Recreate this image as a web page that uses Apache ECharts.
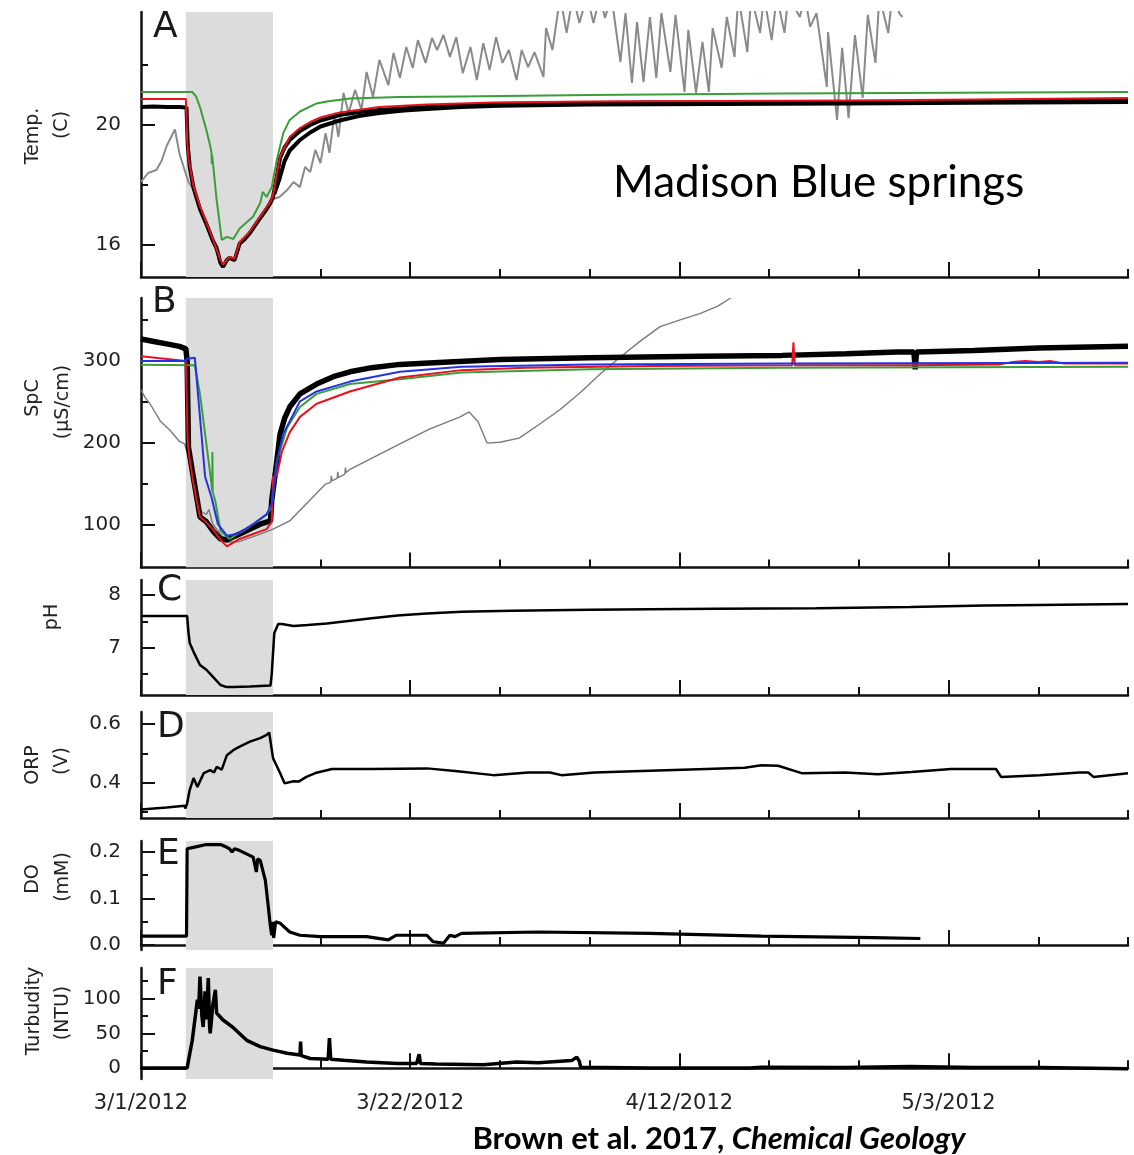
<!DOCTYPE html>
<html><head><meta charset="utf-8">
<script src="https://cdn.jsdelivr.net/npm/echarts@6/dist/echarts.min.js"></script>
<style>html,body{margin:0;padding:0;background:#fff}#c{width:1134px;height:1155px}</style>
</head><body><div id="c"></div>
<script>
// ---------- axis ticks / labels ----------
const xMajorDays = [0, 21, 42, 63];
const xMajorLabels = ['3/1/2012', '3/22/2012', '4/12/2012', '5/3/2012'];
const xMinorDays = [7, 14, 28, 35, 49, 56, 70, 77];
const stormShade = [3.5, 10.3];          // shaded storm interval (days after 3/1/2012)

// ---------- A: Temperature (C) ----------
const tempBlack = [[0,20.6],[1,20.62],[2,20.6],[3,20.6],[3.55,20.58],[3.65,19.3],[3.8,18.6],[4.1,17.9],[4.6,17.2],[5.1,16.7],[5.6,16.15],[5.9,15.9],[6.2,15.4],[6.4,15.27],[6.7,15.5],[6.9,15.57],[7.3,15.5],[7.7,16.05],[8.1,16.2],[8.5,16.4],[9.3,16.9],[9.8,17.2],[10.1,17.4],[10.3,17.6],[10.6,18.3],[10.85,18.9],[11.2,19.25],[11.6,19.5],[12.4,19.8],[13.2,20.0],[14,20.15],[15.5,20.33],[17,20.43],[18.6,20.5],[20.5,20.56],[22.3,20.6],[25,20.65],[27.5,20.7],[31,20.72],[35.3,20.73],[40,20.75],[45,20.75],[50,20.76],[55,20.76],[60,20.77],[65,20.78],[70,20.8],[77,20.82]];
const tempBlackLow = [[10.4,17.7],[10.8,18.2],[11.2,18.8],[11.6,19.15],[12.4,19.5],[13.2,19.75],[14,19.95],[15.5,20.15],[17,20.3],[18.6,20.4],[20.5,20.48],[22.3,20.53],[25,20.6],[28,20.64],[35,20.68],[45,20.7],[55,20.72],[65,20.74],[77,20.77]];
const tempRed = [[0,20.87],[3.5,20.87],[3.55,20.85],[3.6,19.5],[3.7,18.9],[4.1,17.95],[4.6,17.3],[5.1,16.75],[5.6,16.2],[6.2,15.5],[6.4,15.35],[6.9,15.6],[7.3,15.55],[7.7,16.1],[8.5,16.45],[9.3,16.95],[10.1,17.45],[10.3,17.65],[10.6,18.4],[10.85,18.95],[11.6,19.6],[12.4,19.9],[13.2,20.1],[14,20.25],[15.5,20.42],[18.6,20.6],[22.3,20.68],[27.5,20.75],[35,20.78],[45,20.8],[55,20.82],[65,20.85],[77,20.9]];
const tempGreen = [[0,21.1],[4.0,21.1],[4.3,20.95],[4.6,20.6],[5.1,19.83],[5.4,19.3],[5.5,19.07],[5.52,18.7],[5.55,19.0],[5.9,17.5],[6.3,16.17],[6.7,16.27],[7.2,16.2],[7.7,16.55],[8.75,16.95],[9.3,17.4],[9.5,17.77],[9.8,17.6],[10.2,17.93],[10.6,18.85],[11.1,19.73],[11.6,20.17],[12.4,20.45],[13.7,20.72],[14.5,20.78],[16.3,20.88],[20.2,20.93],[24.9,20.95],[35,21.0],[50,21.05],[77,21.1]];
const tempGray = [[0,18.1],[0.55,18.4],[1.2,18.5],[1.6,18.8],[2.0,19.3],[2.65,19.85],[3.0,19.05],[3.4,18.5],[3.7,18.1],[4.1,17.85],[4.6,17.15],[5.1,16.65],[5.6,16.1],[6.2,15.4],[6.4,15.25],[6.7,15.5],[6.9,15.55],[7.3,15.45],[7.7,16.05],[8.5,16.4],[9.3,16.9],[10.1,17.5],[10.8,17.6],[11.4,17.83],[11.9,18.1],[12.4,17.93],[12.8,18.6],[13.2,18.43],[13.6,19.17],[14.0,18.73],[14.4,19.73],[14.7,19.07],[15.1,20.4],[15.4,19.6],[15.8,21.07],[16.2,20.4],[16.7,21.17],[17.2,20.5],[17.6,21.77],[18.1,20.93],[18.6,22.17],[19.3,21.33],[19.7,22.4],[20.2,21.57],[20.7,22.6],[21.2,21.9],[21.6,22.83],[22.2,22.07],[22.7,22.9],[23.1,22.5],[23.6,23.0],[24.1,22.27],[24.6,22.93],[25.1,21.73],[25.7,22.6],[26.2,21.5],[26.7,22.73],[27.2,21.83],[27.7,22.93],[28.2,22.07],[28.7,22.5],[29.3,21.5],[29.7,22.5],[30.2,21.93],[30.7,22.43],[31.4,21.6],[31.6,23.23],[32.1,22.5],[32.7,24.3],[33.2,23.07],[33.7,24.3],[34.2,23.4],[34.8,24.3],[35.3,23.4],[35.8,24.3],[36.2,23.57],[36.7,24.3],[37.4,22.1],[37.8,23.73],[38.3,21.4],[38.7,23.43],[39.2,21.43],[39.7,23.6],[40.2,21.57],[40.6,23.73],[41.3,21.77],[41.7,23.67],[42.4,21.1],[42.7,23.17],[43.3,21.07],[43.8,22.77],[44.3,21.1],[44.6,23.23],[45.3,21.9],[45.7,23.6],[46.3,22.27],[46.6,24.3],[47.3,22.43],[47.6,24.3],[48.3,23.07],[48.6,24.3],[49.2,22.83],[49.6,24.3],[50.2,23.07],[50.5,24.3],[51.4,23.6],[51.8,24.3],[52.2,23.27],[52.7,23.73],[53.5,21.27],[53.6,23.1],[54.3,20.17],[54.7,22.57],[55.2,20.23],[55.7,23.0],[56.3,20.9],[56.7,23.67],[57.3,22.07],[57.6,24.3],[58.3,23.07],[58.6,24.3],[59.2,23.7],[59.4,23.6]];

// ---------- B: Specific conductance (uS/cm) ----------
const spcBlack = [[0,327],[1,324],[2,321],[3,318],[3.5,315],[3.6,300],[3.7,195],[4.0,166],[4.4,129],[4.6,110],[5.1,104],[5.6,93],[6.2,83],[6.7,82],[7.7,89],[8.5,95],[9.3,101],[10.1,105],[10.2,130],[10.5,166],[10.85,211],[11.2,230],[11.6,244],[12.4,260],[13.7,272],[15,281],[16.3,287],[18,292],[20.2,296],[24,299],[28,302],[35,304],[43.6,306],[50,307],[55,309],[59,311],[60.3,311],[60.4,290],[60.5,311],[65,313],[70,316],[77,318]];
const spcRed = [[0,306],[3.5,300],[3.55,298],[3.65,200],[3.8,180],[4.1,150],[4.6,110],[5.0,105],[5.6,95],[6.2,82],[6.7,74],[7.7,83],[8.75,89],[9.8,95],[10.2,104],[10.3,159],[10.6,160],[11.0,190],[11.6,213],[12.4,232],[13.7,248],[16.3,263],[20.2,280],[25,289],[30,292],[40,294],[50.8,295],[50.9,323],[51.0,295],[60,295],[67,296],[68,299],[69,300],[70,299],[71,300],[72,297],[77,297]];
const spcBlue = [[0,300],[3.5,300],[3.6,303],[4.2,304],[4.6,232],[5.0,159],[5.5,134],[6.0,101],[6.7,87],[7.5,89],[8.75,101],[9.8,113],[10.2,126],[10.6,178],[11.1,211],[12.4,251],[13.7,263],[16.3,275],[20.2,287],[25,293],[35,296],[50,297],[77,298]];
const spcGreen = [[0,295.5],[4.2,295],[4.6,260],[5.1,199],[5.5,150],[5.56,141],[5.57,189],[5.6,140],[5.8,129],[6.2,93],[6.9,83],[8.2,95],[9.8,113],[10.2,122],[10.6,178],[11.4,219],[12.4,244],[13.7,260],[16.3,272],[20.2,278],[25,286],[35,290],[50,292],[77,293]];
const spcGray = [[0,265],[0.3,256],[0.4,254],[0.7,248],[1.5,227],[2.3,215],[3.0,202],[3.4,199],[3.7,183],[4.1,150],[4.6,117],[5.1,113],[5.3,119],[5.6,101],[6.7,79],[7.7,80],[9.3,89],[10.3,95],[11.6,105],[12.9,126],[14.4,150],[14.8,152],[14.85,160],[14.9,154],[15.3,157],[15.35,165],[15.4,158],[15.9,162],[15.95,170],[16.0,164],[16.3,168],[20.2,199],[22.5,217],[24.9,232],[25.6,238],[26.3,226],[27.0,200],[28.0,201],[29.5,206],[31,222],[32.7,241],[34.3,262],[35.8,284],[37.4,305],[39,325],[40.5,342],[42,350],[43.6,358],[45,367],[46,377]];

// ---------- C: pH ----------
const phData = [[0,7.6],[3.6,7.6],[3.7,7.3],[3.8,7.09],[4.1,6.92],[4.6,6.67],[5.1,6.58],[5.6,6.45],[6.2,6.29],[6.7,6.25],[7.2,6.25],[8.5,6.26],[10.1,6.28],[10.2,6.5],[10.4,7.28],[10.7,7.45],[11.0,7.45],[11.9,7.41],[13,7.43],[14.5,7.46],[16,7.5],[18,7.56],[20,7.61],[22.3,7.65],[25,7.68],[28.9,7.70],[35,7.72],[39.7,7.73],[45,7.74],[52.7,7.75],[60,7.77],[65.8,7.8],[70,7.81],[77,7.83]];

// ---------- D: ORP (V) ----------
const orpData = [[0,0.309],[2,0.316],[3.4,0.322],[3.45,0.312],[3.6,0.33],[3.8,0.375],[4.1,0.416],[4.4,0.386],[4.9,0.433],[5.4,0.443],[5.7,0.435],[5.9,0.454],[6.3,0.445],[6.7,0.494],[7.2,0.511],[7.7,0.523],[8.5,0.54],[9.3,0.552],[9.8,0.563],[10.0,0.571],[10.3,0.484],[10.85,0.433],[11.2,0.398],[11.9,0.405],[12.3,0.404],[12.9,0.42],[13.6,0.433],[14.9,0.447],[18,0.447],[22.3,0.449],[24.5,0.44],[27.5,0.426],[30.2,0.435],[31.9,0.435],[32.8,0.426],[35.4,0.435],[39.7,0.441],[44.1,0.447],[47.1,0.451],[48.4,0.46],[49.7,0.458],[51.6,0.432],[54.9,0.435],[57.5,0.429],[60.1,0.437],[63.2,0.447],[66.7,0.447],[67.1,0.42],[70.1,0.426],[73.2,0.435],[73.9,0.435],[74.3,0.42],[77,0.432]];

// ---------- E: DO (mM) ----------
const doData = [[0,0.019],[3.55,0.019],[3.6,0.207],[4.1,0.21],[5.1,0.216],[6.2,0.216],[6.7,0.21],[6.9,0.207],[7.1,0.2],[7.3,0.207],[7.7,0.203],[8.75,0.189],[9.0,0.157],[9.1,0.185],[9.3,0.182],[9.7,0.139],[9.9,0.09],[10.1,0.039],[10.2,0.021],[10.3,0.05],[10.35,0.015],[10.5,0.05],[10.85,0.047],[11.6,0.028],[12.4,0.021],[14,0.018],[17.6,0.018],[19.3,0.011],[19.9,0.021],[22.3,0.021],[22.8,0.007],[23.6,0.004],[24.1,0.021],[24.5,0.018],[25.0,0.025],[31,0.028],[39.7,0.025],[48.4,0.019],[57.1,0.016],[60.8,0.014]];

// ---------- F: Turbidity (NTU) ----------
const turbData = [[0,0.5],[3.6,0.5],[4.0,40],[4.4,98],[4.5,85],[4.6,131],[4.75,75],[4.85,59],[5.0,110],[5.1,70],[5.25,129],[5.35,60],[5.4,50],[5.6,90],[5.8,112],[5.9,79],[6.4,69],[7.2,58],[8.25,40],[9.3,31],[10.3,26],[11.4,21.5],[12.4,19],[12.45,38],[12.5,18],[13.2,14],[14.6,13],[14.7,43],[14.8,13],[15.8,11.5],[17.6,9],[20,7],[21.5,7],[21.7,20],[21.8,7],[23,6],[26.7,5],[29.3,9],[31,8],[33.6,11],[34.0,16],[34.2,10],[34.3,1.5],[39.7,0.5],[47.5,0.5],[48.4,1.5],[55,1],[60,2.5],[65,1],[70,1],[77,-0.5]];

// ---------- panel axis settings ----------
const panels = [
  {top: 12,  height: 265,   min: 14.933, max: 23.767, majors: [16, 20],        minors: [18, 22],         dec: 0},
  {top: 298, height: 269.5, min: 48.2,   max: 377,    majors: [100, 200, 300], minors: [150, 250, 350],  dec: 0},
  {top: 580, height: 115,   min: 6.10,   max: 8.285,  majors: [7, 8],          minors: [6.5, 7.5],       dec: 0},
  {top: 712, height: 106,   min: 0.28,   max: 0.641,  majors: [0.4, 0.6],      minors: [0.3, 0.5],       dec: 1},
  {top: 841, height: 109,   min: -0.0107,max: 0.2236, majors: [0, 0.1, 0.2],   minors: [0.05, 0.15],     dec: 1},
  {top: 968, height: 111,   min: -15.3,  max: 143.3,  majors: [0, 50, 100],    minors: [25, 75, 125],    dec: 0}
];

const FONT = 'DejaVu Sans';
const grid = [], xAxis = [], yAxis = [], series = [];
panels.forEach((p, i) => {
  grid.push({left: 141, right: 6, top: p.top, height: p.height});
  const last = i === panels.length - 1;
  xAxis.push({
    type: 'value', gridIndex: i, min: 0, max: 77, position: 'bottom',
    axisLine: {show: true, lineStyle: {color: '#111', width: 2.5}},
    axisTick: {show: true, inside: true, length: 15, customValues: xMajorDays, lineStyle: {color: '#111', width: 2}},
    axisLabel: {show: last, customValues: xMajorDays, margin: 14, color: '#222', fontFamily: FONT, fontSize: 21,
      formatter: v => { const k = xMajorDays.indexOf(v); return k >= 0 ? xMajorLabels[k] : ''; }},
    splitLine: {show: false}
  });
  xAxis.push({
    type: 'value', gridIndex: i, min: 0, max: 77, position: 'bottom', offset: 0,
    axisLine: {show: false},
    axisTick: {show: true, inside: true, length: 8, customValues: xMinorDays, lineStyle: {color: '#111', width: 2}},
    axisLabel: {show: false}, splitLine: {show: false}
  });
  yAxis.push({
    type: 'value', gridIndex: i, min: p.min, max: p.max, position: 'left',
    axisLine: {show: true, lineStyle: {color: '#111', width: 2.5}},
    axisTick: {show: true, inside: true, length: 14, customValues: p.majors, lineStyle: {color: '#111', width: 2}},
    axisLabel: {show: true, customValues: p.majors, margin: 20, color: '#222', fontFamily: FONT, fontSize: 20,
      formatter: v => v.toFixed(p.dec)},
    splitLine: {show: false}
  });
  yAxis.push({
    type: 'value', gridIndex: i, min: p.min, max: p.max, position: 'left', offset: 0,
    axisLine: {show: false},
    axisTick: {show: true, inside: true, length: 7, customValues: p.minors, lineStyle: {color: '#111', width: 2}},
    axisLabel: {show: false}, splitLine: {show: false}
  });
  // storm shading
  series.push({
    type: 'line', xAxisIndex: 2 * i, yAxisIndex: 2 * i, silent: true, z: 1,
    data: [[stormShade[0], p.max], [stormShade[1], p.max]],
    symbol: 'none', lineStyle: {width: 0},
    areaStyle: {color: '#dcdcdc', opacity: 1, origin: 'start'}
  });
});

function line(panel, data, color, width, z) {
  return {type: 'line', xAxisIndex: 2 * panel, yAxisIndex: 2 * panel, data, symbol: 'none', showSymbol: false,
    clip: true, z: z || 2, lineStyle: {color, width}, animation: false};
}
const RED = '#e8121c', GREEN = '#3a9e3a', BLUE = '#2233e6', GRAY = '#8a8a8a';
series.push(line(0, tempGray, GRAY, 2, 2));
series.push(line(0, tempBlackLow, '#000', 4, 3));
series.push(line(0, tempBlack, '#000', 4, 3));
series.push(line(0, tempRed, RED, 2, 4));
series.push(line(0, tempGreen, GREEN, 2, 5));
series.push(line(1, spcGray, '#7a7a7a', 1.4, 2));
series.push(line(1, spcBlack, '#000', 5.5, 3));
series.push(line(1, spcGreen, GREEN, 2, 4));
series.push(line(1, spcRed, RED, 2, 5));
series.push(line(1, spcBlue, BLUE, 2, 6));
series.push(line(2, phData, '#000', 2.5, 3));
series.push(line(3, orpData, '#000', 2.5, 3));
series.push(line(4, doData, '#000', 3.2, 3));
series.push(line(5, turbData, '#000', 3.5, 3));

// ---------- texts ----------
const letters = [['A', 153, 28], ['B', 152, 303], ['C', 157, 591], ['D', 157, 728], ['E', 157, 855], ['F', 157, 985]];
const yNames = [
  ['Temp.', 33, 136], ['(C)', 62, 125],
  ['SpC', 33, 398], ['(\u00b5S/cm)', 63, 402],
  ['pH', 52, 617],
  ['ORP', 33, 765], ['(V)', 62, 761],
  ['DO', 33, 879], ['(mM)', 63, 877],
  ['Turbudity', 34, 1011], ['(NTU)', 63, 1013]
];
const graphic = [];
letters.forEach(([t, x, y]) => graphic.push({type: 'text', x, y, z: 50,
  style: {text: t, fill: '#1a1a1a', fontFamily: FONT, fontSize: 36, align: 'left', verticalAlign: 'middle'}}));
yNames.forEach(([t, x, y]) => graphic.push({type: 'text', x, y, rotation: Math.PI / 2, z: 50,
  style: {text: t, fill: '#222', fontFamily: FONT, fontSize: 19, align: 'center', verticalAlign: 'middle'}}));
graphic.push({type: 'text', x: 613, y: 183, z: 50,
  style: {text: 'Madison Blue springs', fill: '#000', fontFamily: 'Lato', fontSize: 44, align: 'left', verticalAlign: 'middle'}});
graphic.push({type: 'text', x: 719, y: 1139, z: 50,
  style: {text: '{a|Brown et al. 2017, }{b|Chemical Geology}', align: 'center', verticalAlign: 'middle',
    rich: {a: {fontFamily: 'Lato', fontWeight: 'bold', fontSize: 31, fill: '#000', color: '#000'},
           b: {fontFamily: 'Lato', fontWeight: 'bold', fontStyle: 'italic', fontSize: 31, fill: '#000', color: '#000'}}}});

const chart = echarts.init(document.getElementById('c'), null, {renderer: 'canvas'});
chart.setOption({animation: false, backgroundColor: '#fff', grid, xAxis, yAxis, series, graphic});
</script></body></html>
